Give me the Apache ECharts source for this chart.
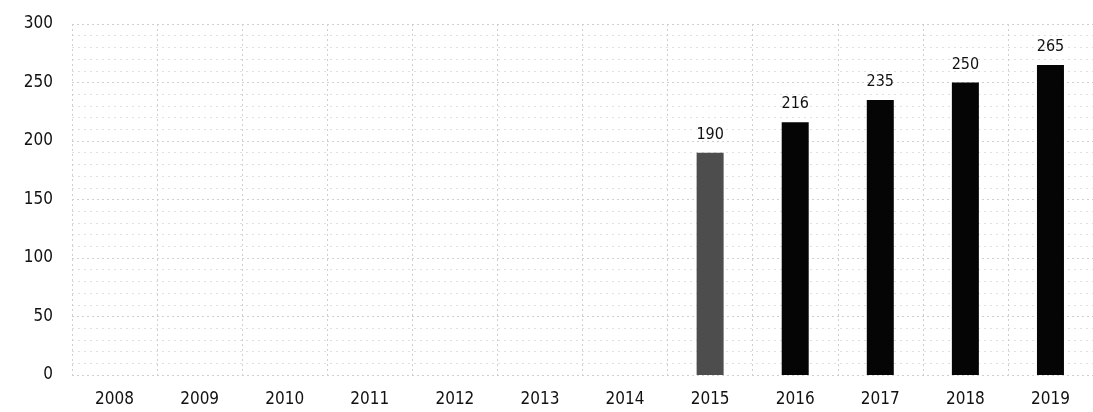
<!DOCTYPE html>
<html>
<head>
<meta charset="utf-8">
<script src="https://cdn.jsdelivr.net/npm/echarts@6/dist/echarts.min.js"></script>
<style>
  html, body { margin: 0; padding: 0; background: #fff; }
  #chart { width: 1093px; height: 412px; }
</style>
</head>
<body>
<div id="chart"></div>
<script>
var years = ['2008', '2009', '2010', '2011', '2012', '2013', '2014', '2015', '2016', '2017', '2018', '2019'];
var values = ['-', '-', '-', '-', '-', '-', '-', 190, 216, 235, 250, 265];
var yTicks = [0, 50, 100, 150, 200, 250, 300];

var chart = echarts.init(document.getElementById('chart'));

// first real value (2015) is printed in a grey screen tone, the rest solid black
var barData = values.map(function (v, i) {
  if (v === '-') return v;
  return {
    value: v,
    itemStyle: { color: i === 7 ? '#4d4d4d' : '#050505' }
  };
});

var gridLine = {
  show: true,
  lineStyle: { color: '#cfcfcf', type: [2, 3], width: 1 }
};

var narrow = '"DejaVu Sans Condensed", "Liberation Sans", sans-serif';

var option = {
  backgroundColor: '#ffffff',
  animation: false,
  textStyle: { fontFamily: narrow },
  grid: { left: 72, top: 24, bottom: 37, width: 1024 },
  xAxis: {
    type: 'category',
    data: years,
    boundaryGap: true,
    axisLine: { show: false },
    axisTick: { show: false },
    axisLabel: { color: '#111', fontSize: 17, fontFamily: narrow, margin: 16 },
    splitLine: gridLine
  },
  yAxis: {
    type: 'value',
    min: yTicks[0],
    max: yTicks[yTicks.length - 1],
    interval: 50,
    axisLine: { show: false },
    axisTick: { show: false },
    axisLabel: { color: '#111', fontSize: 17, fontFamily: narrow, margin: 19 },
    splitLine: gridLine,
    minorTick: { show: false, splitNumber: 5 },
    minorSplitLine: {
      show: true,
      lineStyle: { color: '#e0e0e0', type: [2, 4], width: 1 }
    }
  },
  series: [{
    type: 'bar',
    data: barData,
    barWidth: 27,
    label: {
      show: true,
      position: 'top',
      distance: 10,
      color: '#111',
      fontSize: 16,
      fontFamily: narrow
    }
  }]
};

chart.setOption(option);
</script>
</body>
</html>
